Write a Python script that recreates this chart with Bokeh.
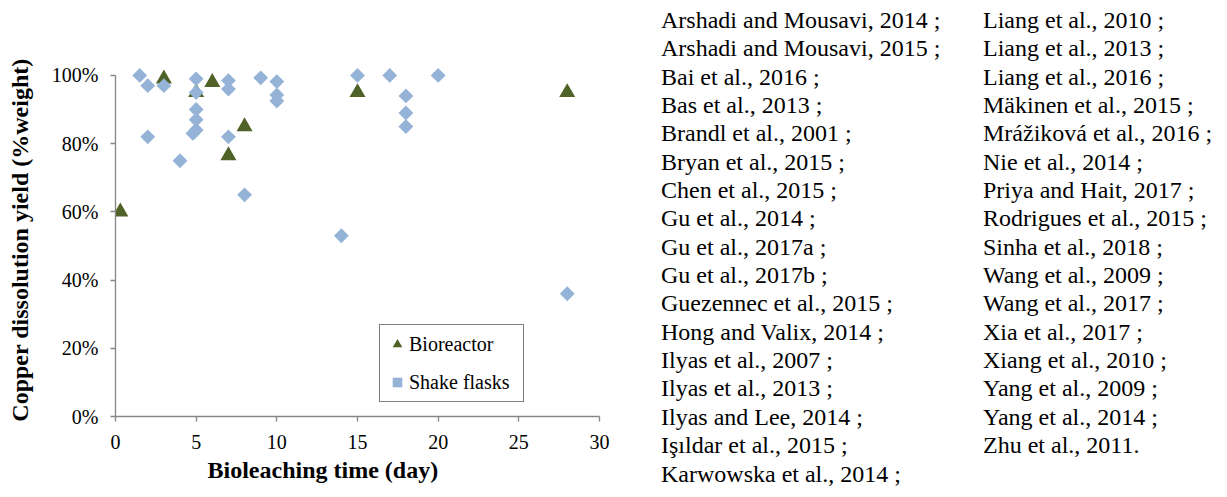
import math
from bokeh.plotting import figure
from bokeh.models import (Range1d, FixedTicker, NumeralTickFormatter, Legend,
                          LegendItem, Title, ColumnDataSource, Div)
from bokeh.layouts import row
from bokeh.embed import file_html
from bokeh.resources import INLINE

# ---------------- data ----------------
bio_days = [0.3, 3, 5, 6, 7, 8, 15, 28]
bio_yield = [0.60, 0.99, 0.95, 0.98, 0.765, 0.85, 0.95, 0.95]

flask_days = [1.5, 2, 3, 5, 5, 5, 5, 5, 4.8, 2, 4, 7, 7, 7, 9, 10, 10, 10, 8,
              14, 15, 17, 20, 18, 18, 18, 28]
flask_yield = [1.00, 0.97, 0.97, 0.99, 0.95, 0.90, 0.87, 0.84, 0.83, 0.82, 0.75,
               0.985, 0.96, 0.82, 0.993, 0.982, 0.943, 0.925, 0.65,
               0.53, 1.00, 1.00, 1.00, 0.94, 0.89, 0.85, 0.36]

x_ticks = [0, 5, 10, 15, 20, 25, 30]
y_ticks = [0, 0.2, 0.4, 0.6, 0.8, 1.0]
series_names = ["Bioreactor", "Shake flasks"]
x_title = "Bioleaching time (day)"
y_title = "Copper dissolution yield (%weight)"

refs_col1 = [
    "Arshadi and Mousavi, 2014 ;",
    "Arshadi and Mousavi, 2015 ;",
    "Bai et al., 2016 ;",
    "Bas et al., 2013 ;",
    "Brandl et al., 2001 ;",
    "Bryan et al., 2015 ;",
    "Chen et al., 2015 ;",
    "Gu et al., 2014 ;",
    "Gu et al., 2017a ;",
    "Gu et al., 2017b ;",
    "Guezennec et al., 2015 ;",
    "Hong and Valix, 2014 ;",
    "Ilyas et al., 2007 ;",
    "Ilyas et al., 2013 ;",
    "Ilyas and Lee, 2014 ;",
    "Işıldar et al., 2015 ;",
    "Karwowska et al., 2014 ;",
]
refs_col2 = [
    "Liang et al., 2010 ;",
    "Liang et al., 2013 ;",
    "Liang et al., 2016 ;",
    "Mäkinen et al., 2015 ;",
    "Mrážiková et al., 2016 ;",
    "Nie et al., 2014 ;",
    "Priya and Hait, 2017 ;",
    "Rodrigues et al., 2015 ;",
    "Sinha et al., 2018 ;",
    "Wang et al., 2009 ;",
    "Wang et al., 2017 ;",
    "Xia et al., 2017 ;",
    "Xiang et al., 2010 ;",
    "Yang et al., 2009 ;",
    "Yang et al., 2014 ;",
    "Zhu et al., 2011.",
]

FONT = "Liberation Serif"
AXIS_GREY = "#868686"
GREEN = "#4F6228"
BLUE = "#95B3D7"

# ---------------- scatter chart ----------------
W1, H = 648, 497
p = figure(width=W1, height=H, x_range=Range1d(0, 30), y_range=Range1d(0, 1.035),
           output_backend="svg", toolbar_location=None,
           min_border_left=115, min_border_right=49, min_border_top=63, min_border_bottom=81)
p.outline_line_color = None
p.grid.visible = False
p.background_fill_color = "white"
p.border_fill_color = "white"

p.xaxis.ticker = FixedTicker(ticks=x_ticks)
p.yaxis.ticker = FixedTicker(ticks=y_ticks)
p.yaxis.formatter = NumeralTickFormatter(format="0%")
p.xaxis.bounds = (0, 30)
p.yaxis.bounds = (0, 1)
for ax in (p.xaxis, p.yaxis):
    ax.axis_line_color = AXIS_GREY
    ax.axis_line_width = 1.3
    ax.major_tick_line_color = AXIS_GREY
    ax.major_tick_line_width = 1.3
    ax.major_tick_out = 5
    ax.major_tick_in = 0
    ax.minor_tick_line_color = None
    ax.major_label_text_font = FONT
    ax.major_label_text_font_size = "20px"
    ax.major_label_text_color = "black"
p.xaxis.major_label_standoff = 13
p.yaxis.major_label_standoff = 12
p.yaxis.axis_label = y_title
p.yaxis.axis_label_text_font = FONT
p.yaxis.axis_label_text_font_size = "24px"
p.yaxis.axis_label_text_font_style = "bold"
p.yaxis.axis_label_text_color = "black"
p.yaxis.axis_label_standoff = 16

src_bio = ColumnDataSource(dict(x=bio_days, y=bio_yield))
src_flask = ColumnDataSource(dict(x=flask_days, y=flask_yield))
r1 = p.scatter("x", "y", source=src_bio, marker="triangle", size=16,
               fill_color=GREEN, line_color=None)
r2 = p.scatter("x", "y", source=src_flask, marker="square", angle=math.pi / 4, size=10.5,
               fill_color=BLUE, line_color=None)

legend = Legend(items=[LegendItem(label=series_names[0], renderers=[r1]),
                       LegendItem(label=series_names[1], renderers=[r2])],
                location=(264, 14), orientation="vertical",
                border_line_color="black", border_line_width=1.5,
                background_fill_color="white", background_fill_alpha=1.0,
                padding=5, spacing=10, margin=0,
                glyph_width=24, glyph_height=28, label_height=28, label_width=109,
                label_standoff=-2, label_text_font=FONT, label_text_font_size="20px",
                label_text_color="black")
p.add_layout(legend)

p.add_layout(Title(text=x_title, align="left", offset=92, standoff=6,
                   text_font=FONT, text_font_size="24px", text_font_style="bold",
                   text_color="black"), "below")

# ---------------- reference list ----------------
W2 = 1227 - W1
col_left = [13, 335]
cols_html = ""
for left, col in zip(col_left, [refs_col1, refs_col2]):
    cols_html += ('<div style="position:absolute;left:%dpx;top:6px;">' % left
                  + "<br>".join(col) + "</div>")
refs = Div(text=('<div style="position:relative;width:%dpx;height:%dpx;'
                 "font-family:'Liberation Serif';font-size:24px;line-height:28.34px;"
                 'color:black;white-space:nowrap;">' % (W2, H)) + cols_html + "</div>",
           width=W2, height=H, margin=0)

layout = row(p, refs)
open("out.html", "w").write(file_html(layout, INLINE))
